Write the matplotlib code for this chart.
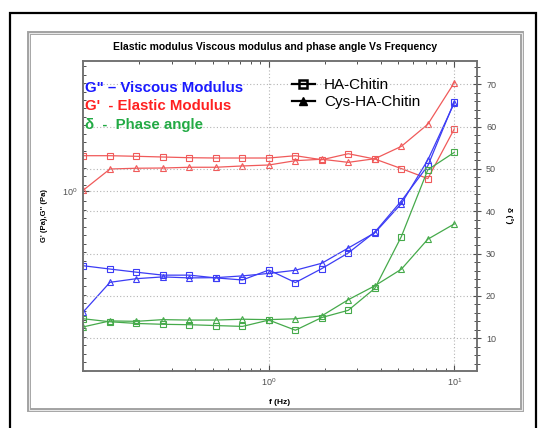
import numpy as np
import matplotlib
matplotlib.use("Agg")
import matplotlib.pyplot as plt
from matplotlib.lines import Line2D
from matplotlib.patches import Rectangle
from matplotlib.ticker import FixedLocator, LogFormatterMathtext, MultipleLocator, NullFormatter

plt.rcParams['font.family'] = ['Liberation Sans', 'DejaVu Sans']

# frequency sweep (Hz)
freq = [0.1, 0.139, 0.193, 0.268, 0.373, 0.518, 0.72, 1.0, 1.39, 1.93, 2.68, 3.73, 5.18, 7.2, 10.0]

# G' elastic modulus (Pa)
g1_ha = [1.308, 1.308, 1.302, 1.295, 1.288, 1.285, 1.285, 1.285, 1.308, 1.268, 1.328, 1.275, 1.185, 1.097, 1.606]
g1_cys = [1.005, 1.181, 1.188, 1.190, 1.197, 1.197, 1.209, 1.218, 1.259, 1.273, 1.243, 1.278, 1.405, 1.665, 2.291]

# G'' viscous modulus (Pa)
g2_ha = [0.562, 0.548, 0.535, 0.523, 0.523, 0.512, 0.504, 0.544, 0.494, 0.550, 0.620, 0.728, 0.924, 1.211, 1.980]
g2_cys = [0.395, 0.495, 0.509, 0.516, 0.512, 0.513, 0.520, 0.530, 0.543, 0.573, 0.644, 0.724, 0.905, 1.266, 1.960]

# phase angle (deg)
d_ha = [14.6, 13.9, 13.5, 13.3, 13.2, 13.0, 12.8, 14.3, 11.9, 14.9, 16.6, 21.8, 34.0, 49.8, 53.9]
d_cys = [12.7, 14.1, 14.0, 14.4, 14.3, 14.3, 14.5, 14.4, 14.6, 15.3, 19.1, 22.4, 26.3, 33.4, 37.0]

W, H = 538, 428
fig = plt.figure(figsize=(W / 100, H / 100), dpi=100)


def fx(px):
    return px / W


def fy(py):
    return (H - py) / H


# outer black frame and grey panel
fig.patches.append(Rectangle((fx(10), fy(440)), fx(526), (440 - 13) / H, transform=fig.transFigure,
                             fill=False, edgecolor='black', lw=1.6))
fig.patches.append(Rectangle((fx(28.5), fy(410)), fx(493), 377 / H, transform=fig.transFigure,
                             fill=False, edgecolor='#a0a0a0', lw=2.8))
fig.patches.append(Rectangle((fx(28.5), fy(410)), fx(493), 377 / H, transform=fig.transFigure,
                             fill=False, edgecolor='#e8e8e8', lw=0.8))

ax = fig.add_axes([fx(82.5), fy(371), fx(394.5), 310.5 / H])
ax2 = ax.twinx()

red = '#f05a5a'
blue = '#3c3cf5'
green = '#46aa4b'
mk = dict(ms=4, mfc='none', mew=0.8, lw=0.9)

ax.plot(freq, g1_ha, color=red, marker='s', **mk)
ax.plot(freq, g1_cys, color=red, marker='^', **mk)
ax.plot(freq, g2_ha, color=blue, marker='s', **mk)
ax.plot(freq, g2_cys, color=blue, marker='^', **mk)
ax2.plot(freq, d_ha, color=green, marker='s', **mk)
ax2.plot(freq, d_cys, color=green, marker='^', **mk)

ax.set_xscale('log')
ax.set_yscale('log')
ax.set_xlim(0.0988, 13.26)
ax.set_ylim(0.2506, 2.716)
ax2.set_ylim(2.27, 75.6)

ax.xaxis.set_major_locator(FixedLocator([1.0, 10.0]))
ax.xaxis.set_minor_locator(FixedLocator([k * 0.1 for k in range(2, 10)] + list(range(2, 10))))
ax.xaxis.set_major_formatter(LogFormatterMathtext())
ax.xaxis.set_minor_formatter(NullFormatter())
ax.yaxis.set_major_locator(FixedLocator([1.0]))
ax.yaxis.set_major_formatter(LogFormatterMathtext())
ax.yaxis.set_minor_locator(FixedLocator(10 ** np.arange(-0.6, 0.44, 0.0282)))
ax.yaxis.set_minor_formatter(NullFormatter())

ax2.yaxis.set_major_locator(MultipleLocator(10))
ax2.yaxis.set_minor_locator(MultipleLocator(2))

gridkw = dict(color='#b4b4b4', linestyle=(0, (1, 2)), lw=0.8)
ax.grid(True, axis='x', which='major', **gridkw)
ax.grid(True, axis='y', which='major', **gridkw)
ax2.grid(True, axis='y', which='major', **gridkw)

tc = '#505050'
ax.tick_params(axis='both', which='both', direction='in', top=True, colors=tc, labelsize=6.5)
ax.tick_params(axis='both', which='major', length=4, width=0.8)
ax.tick_params(axis='both', which='minor', length=2.5, width=0.7)
ax2.tick_params(axis='y', which='both', direction='inout', colors=tc, labelsize=6.5)
ax2.tick_params(axis='y', which='major', length=6, width=0.8)
ax2.tick_params(axis='y', which='minor', length=4, width=0.7)

for a in (ax, ax2):
    for s in a.spines.values():
        s.set_color('#707070')
        s.set_linewidth(1.1)

ax.set_xlabel('f (Hz)', fontsize=6, fontweight='bold', labelpad=8)
ax.set_ylabel("G' (Pa),G'' (Pa)", fontsize=5.5, fontweight='bold', labelpad=10)
ax2.set_ylabel('\u03b4 (\u00b0)', fontsize=6, fontweight='bold', rotation=270, labelpad=12)

fig.text(fx(275), fy(47), 'Elastic modulus Viscous modulus and phase angle Vs Frequency',
         ha='center', va='center', fontsize=7.5, fontweight='bold')

fig.text(fx(85), fy(88), 'G" \u2013 Viscous Modulus', color='#1a1aff', fontsize=10.8,
         fontweight='bold', va='center')
fig.text(fx(85), fy(106.5), "G'  - Elastic Modulus", color='#ff2020', fontsize=10.8,
         fontweight='bold', va='center')
fig.text(fx(85), fy(125.5), '\u03b4  -  Phase angle', color='#22aa44', fontsize=10.8,
         fontweight='bold', va='center')

handles = [Line2D([], [], color='black', marker='s', mfc='none', mew=1.8, ms=6, lw=1.6),
           Line2D([], [], color='black', marker='^', mfc='black', ms=6, lw=1.6)]
fig.legend(handles, ['HA-Chitin', 'Cys-HA-Chitin'], loc='upper left',
           bbox_to_anchor=(fx(292), fy(78)), frameon=False, fontsize=11,
           handlelength=1.5, handletextpad=0.6, labelspacing=0.2, borderpad=0, borderaxespad=0)

fig.savefig('out.png', dpi=100)
